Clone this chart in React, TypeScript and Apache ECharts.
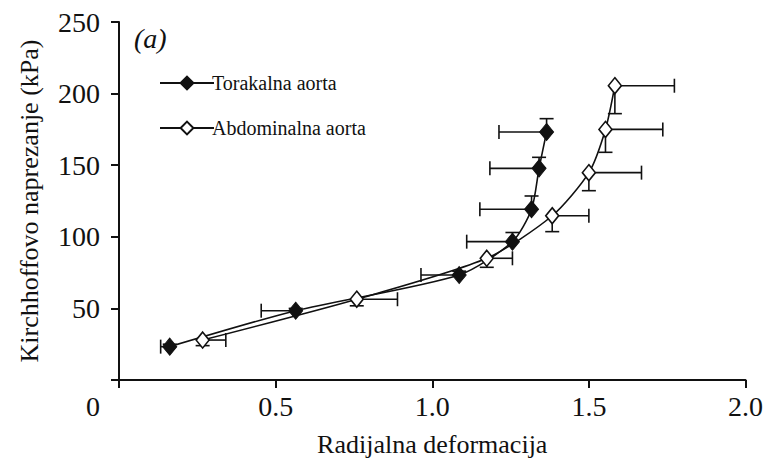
import React, { useEffect, useRef } from "react";
import * as echarts from "echarts";

const seriesNames = ["Torakalna aorta", "Abdominalna aorta"];

// Torakalna aorta (filled diamonds)
const torX = [0.162, 0.564, 1.086, 1.256, 1.317, 1.341, 1.365];
const torY = [23.3, 48.4, 73.3, 96.6, 119.2, 147.8, 173.2];
const torXLow = [0.133, 0.454, 0.964, 1.11, 1.152, 1.184, 1.213];
const torYHigh = [25, 50, 76, 103, 128.5, 155.5, 182.5];

// Abdominalna aorta (open diamonds)
const abdX = [0.267, 0.759, 1.174, 1.383, 1.5, 1.553, 1.583];
const abdY = [27.9, 56.4, 85, 114.7, 144.8, 175, 205.5];
const abdXHigh = [0.341, 0.889, 1.256, 1.5, 1.668, 1.736, 1.773];
const abdYLow = [24, 51.8, 78.7, 103.6, 132.2, 159, 186];

const xTicks = { min: 0, max: 2, interval: 0.5 };
const yTicks = { min: 0, max: 250, interval: 50 };

const FONT = "'Liberation Serif', 'Times New Roman', serif";

export default function App() {
  const ref = useRef<HTMLDivElement>(null);
  useEffect(() => {
    if (!ref.current) return;
    const chart = echarts.init(ref.current, null, { renderer: "svg" });

    const errData = (
      xs: number[],
      ys: number[],
      xe: number[],
      ye: number[]
    ) => xs.map((x, i) => [x, ys[i], xe[i], ye[i]]);

    const renderErr = (params: any, api: any) => {
      const x = api.value(0);
      const y = api.value(1);
      const xe = api.value(2);
      const ye = api.value(3);
      const p = api.coord([x, y]);
      const px = api.coord([xe, y]);
      const py = api.coord([x, ye]);
      const cap = 7;
      const style = { stroke: "#111", lineWidth: 1.6 };
      return {
        type: "group",
        children: [
          { type: "line", shape: { x1: p[0], y1: p[1], x2: px[0], y2: px[1] }, style },
          { type: "line", shape: { x1: px[0], y1: px[1] - cap, x2: px[0], y2: px[1] + cap }, style },
          { type: "line", shape: { x1: p[0], y1: p[1], x2: py[0], y2: py[1] }, style },
          { type: "line", shape: { x1: py[0] - cap, y1: py[1], x2: py[0] + cap, y2: py[1] }, style },
        ],
      };
    };

    chart.setOption({
      animation: false,
      backgroundColor: "#fff",
      grid: { left: 119, right: 20, top: 22, bottom: 83, containLabel: false },
      legend: {
        orient: "vertical",
        left: 154,
        top: 68,
        itemGap: 25,
        itemWidth: 54,
        itemHeight: 16,
        data: seriesNames,
        textStyle: { fontFamily: FONT, fontSize: 20, color: "#111", padding: [0, 0, 0, -7] },
      },
      xAxis: {
        type: "value",
        min: xTicks.min,
        max: xTicks.max,
        interval: xTicks.interval,
        name: "Radijalna deformacija",
        nameLocation: "middle",
        nameGap: 51,
        nameTextStyle: { fontFamily: FONT, fontSize: 26, color: "#111" },
        axisLine: { show: true, onZero: false, lineStyle: { color: "#111", width: 2 } },
        axisTick: { show: true, inside: false, length: 8, lineStyle: { color: "#111", width: 2 } },
        splitLine: { show: false },
        axisLabel: {
          fontFamily: FONT,
          fontSize: 28,
          color: "#111",
          margin: 12,
          formatter: (v: number) => (v === 0 ? "{z|0}" : v.toFixed(1)),
          rich: { z: { fontFamily: FONT, fontSize: 28, color: "#111", padding: [0, 52, 0, 0] } },
        },
      },
      yAxis: {
        type: "value",
        min: yTicks.min,
        max: yTicks.max,
        interval: yTicks.interval,
        name: "Kirchhoffovo naprezanje (kPa)",
        nameLocation: "middle",
        nameGap: 77,
        nameTextStyle: { fontFamily: FONT, fontSize: 26, color: "#111" },
        axisLine: { show: true, onZero: false, lineStyle: { color: "#111", width: 2 } },
        axisTick: { show: true, inside: false, length: 8, lineStyle: { color: "#111", width: 2 } },
        splitLine: { show: false },
        axisLabel: {
          fontFamily: FONT,
          fontSize: 28,
          color: "#111",
          margin: 19,
          formatter: (v: number) => (v === 0 ? "" : String(v)),
        },
      },
      graphic: [
        {
          type: "text",
          left: 134,
          top: 24,
          style: {
            text: "(a)",
            fontFamily: FONT,
            fontSize: 28,
            fontStyle: "italic",
            fill: "#111",
          },
        },
      ],
      series: [
        {
          name: "err-tor",
          type: "custom",
          renderItem: renderErr,
          data: errData(torX, torY, torXLow, torYHigh),
          z: 1,
          silent: true,
        },
        {
          name: "err-abd",
          type: "custom",
          renderItem: renderErr,
          data: errData(abdX, abdY, abdXHigh, abdYLow),
          z: 1,
          silent: true,
        },
        {
          name: seriesNames[0],
          type: "line",
          color: "#111",
          data: torX.map((x, i) => [x, torY[i]]),
          smooth: 0.25,
          symbol: "diamond",
          symbolSize: [14, 17],
          lineStyle: { color: "#111", width: 1.6 },
          itemStyle: { color: "#111", borderColor: "#111", borderWidth: 1 },
          z: 3,
        },
        {
          name: seriesNames[1],
          type: "line",
          color: "#111",
          data: abdX.map((x, i) => [x, abdY[i]]),
          smooth: 0.25,
          symbol: "diamond",
          symbolSize: [13, 16],
          lineStyle: { color: "#111", width: 1.6 },
          itemStyle: { color: "#fff", borderColor: "#111", borderWidth: 1.6 },
          z: 3,
        },
      ],
    });
    return () => chart.dispose();
  }, []);
  return (
    <div
      ref={ref}
      style={{ position: "fixed", left: 0, top: 0, width: 766, height: 463 }}
    />
  );
}
